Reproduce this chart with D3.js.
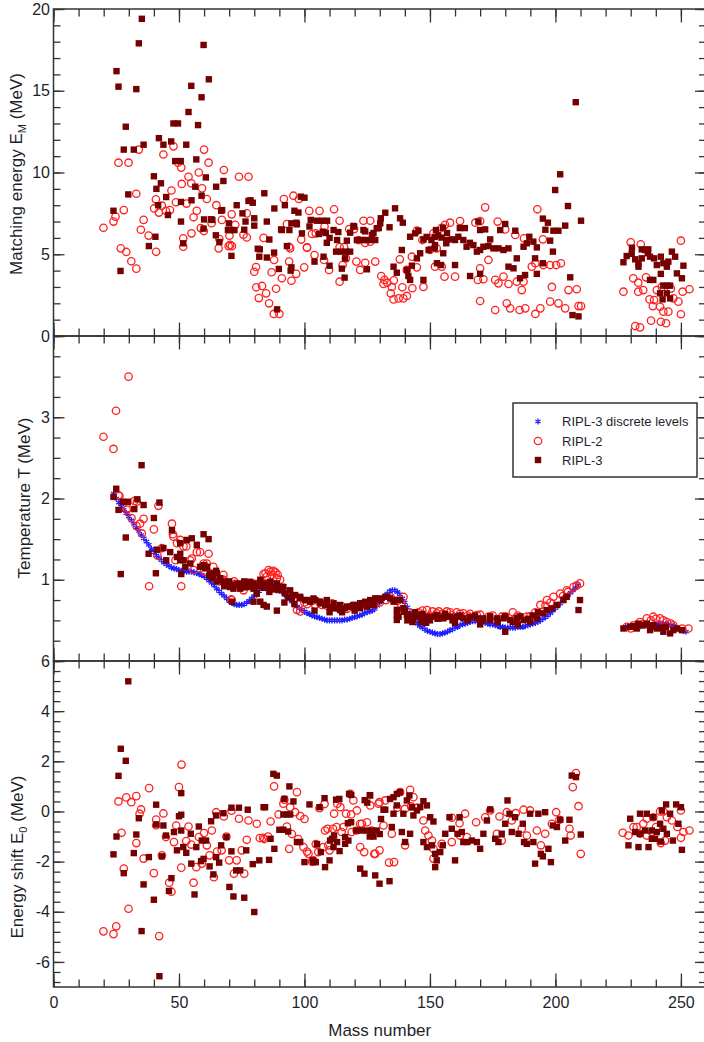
<!DOCTYPE html>
<meta charset="utf-8">
<head>
  <script src="https://d3js.org/d3.v7.min.js"></script>
  <style>
    body { margin: 0; background: #fff; }
    text { font-family: "Liberation Sans", Arial, sans-serif; fill: #1f1f2a; }
  </style>
</head>
<body>
  <div id="chart"></div>
  <script>
    // ---- data: [mass number, value] ----
    // matching energy E_M (MeV)
    var emRipl2 = [[19.9,6.62],[23.9,7.0],[24.7,7.3],[28,7.7],[26.8,5.36],[29,5.14],[31,4.57],[33,4.12],[25.9,10.6],[29.9,10.6],[34,11.4],[33,8.7],[35.9,7.1],[34.8,6.5],[37.9,6.14],[40.9,5.15],[40.1,7.8],[40.8,8.36],[42,7.55],[43.2,7.97],[44.8,7.66],[46.4,7.7],[47,8.9],[43.8,11.1],[47.8,11.6],[48.8,8.18],[49.6,10.6],[50.9,10.3],[51.1,9.3],[51.7,5.97],[51.7,5.46],[53,8.1],[53.8,9.74],[54.9,9.34],[55.8,7.26],[55,6.28],[57.1,7.66],[57.9,10.0],[59.2,9.03],[60,11.4],[61.8,10.6],[61.1,8.38],[58.7,6.6],[59.9,6.42],[63,6.9],[64.9,8.0],[67.1,7.1],[66.1,5.93],[67.9,10.15],[65.8,5.36],[70.1,6.13],[69.8,5.5],[71.1,5.5],[71,7.44],[73.9,9.74],[72.4,6.8],[77,7.5],[75.7,6.2],[77.7,9.74],
      [91.8,8.38],[95.6,8.58],[97.8,8.38],[101.9,7.65],[106,7.65],[111.8,7.75],[114,7.05],[123.5,7.05],[126.2,7.05],[93,6.85],[98.7,5.9],[104.5,6.28],[101,5.4],[104,4.95],[93.9,5.46],[93.9,4.55],[96.7,3.8],[94.8,3.38],[91,3.53],[86.9,3.9],[87.9,4.65],[83.7,6.0],[80,3.93],[80.7,4.22],[80.8,2.98],[83.1,3.06],[81.8,2.32],[84.7,2.61],[85.9,2.0],[88.7,2.89],[87.8,1.35],[90,1.35],[99.9,4.2],[107.8,4.65],[109.8,4.04],[114,3.32],[115.2,4.34],[116.5,4.75],[120.7,4.55],[122.2,4.04],[124.2,4.48],[128.2,4.55],[108,6.7],[77,6.03],[70.4,5.57],[103,6.24],[94.3,5.36],[101,5.42],[114,5.44],[115.8,5.44],
      [117.8,6.54],[119.8,6.54],[121.5,5.87],[124.2,5.69],[126.2,5.77],[130.6,3.67],[131.9,3.43],[131.5,3.18],[133,3.26],[134.4,2.61],[135.5,2.24],[137.5,2.3],[134.8,3.0],[139.4,2.3],[140.8,2.45],[139,2.98],[143,2.92],[135.6,3.4],[138,4.69],[140.8,4.04],[144.8,4.2],[142.8,4.85],[147.4,3.0],[152,4.24],[154.7,4.24],[155.8,3.63],[160,3.63],[150,5.26],[152.7,5.36],[147,5.87],[151.4,6.28],[154.7,6.62],[158,6.93],[162,7.03],[156,6.8],[144.8,6.44],[168.1,6.93],[170,7.03],[172,7.87],[177,7.0],[180,6.52],[170,4.14],[173.3,4.65],[171.3,3.47],[169.1,3.43],[176,3.43],[177.3,3.22],[179.3,3.63],[181.3,3.18],[170,2.14],[176,1.59],[180.6,2.0],[182,1.69],[185.7,1.59],[188,1.69],[192,1.35],[194,1.69],[184.6,3.32],[187.3,3.32],[190.6,4.24],[192,4.45],[186.6,2.81],[184,6.18],[187.5,5.97],[192.8,7.75],[195,5.91],[195.2,4.34],[197.9,4.34],[200.3,4.34],[202.2,4.45],[198.6,3.0],[197.9,2.1],[201.2,2.0],[203.9,1.69],[205.2,2.81],[208.5,2.86],[209.2,1.83],[210.2,1.83],
      [227.1,2.71],[230,5.73],[234,5.61],[231,3.53],[233,3.26],[236.1,3.59],[235,2.81],[233,2.71],[237.5,2.24],[239.3,2.2],[238.8,1.83],[240.4,2.81],[242.4,3.0],[241.7,1.79],[243,1.49],[245,1.49],[231.8,0.61],[233.7,0.53],[238.1,0.94],[242,0.87],[244.1,0.78],[247,2.3],[249,2.1],[250,1.33],[250.7,2.71],[253.4,2.86],[250,5.83],[246,2.9]];
    var emRipl3 = [[35.2,19.4],[34,17.9],[25.1,16.2],[25.9,15.25],[33,15.1],[59.8,17.8],[61.9,15.7],[54.9,15.3],[59,14.6],[53.8,13.7],[57.6,12.9],[28.8,12.8],[47.8,13.0],[49.6,13.0],[42,12.1],[43.8,11.7],[35.9,11.7],[46.9,11.9],[52.9,11.7],[28,11.4],[32,11.4],[48.5,10.7],[50.7,10.7],[56.9,10.8],[40,9.77],[60.7,9.7],[42.8,9.34],[41,9.0],[64.8,9.13],[67.7,9.48],[56.5,9.13],[29.8,8.66],[59,8.58],[55,8.3],[50.8,8.2],[44.9,8.5],[23.9,7.66],[41.7,8.0],[45.6,7.4],[66.8,7.66],[60,7.13],[63.3,7.1],[50.8,7.0],[64.7,6.16],[40.6,6.07],[69.5,6.48],[70.8,6.48],[72.1,6.48],[75.3,7.5],[73,8.0],[77.7,8.26],[66.1,5.75],[51.7,5.67],[38,5.5],[70.9,4.9],[26.7,3.98],
      [81.4,5.34],[82.2,5.3],[82,4.85],[85,4.8],[87.9,5.1],[86,5.9],[89.8,4.1],[89.1,1.63],[93,5.5],[94.8,4.2],[94.5,4.0],[104,4.55],[107.6,4.85],[110,4.3],[116,3.57],[114.9,4.12],[90.7,6.52],[94,6.48],[88,7.8],[84,8.73],[85,7.0],[92.2,8.0],[96,7.66],[97.6,7.55],[97,6.83],[100,8.46],[99,6.28],[102.5,7.1],[105,7.05],[107,7.05],[109,7.05],[105.8,6.24],[107.3,6.38],[108.9,5.7],[110,6.0],[111.6,6.48],[113,5.87],[113.5,6.36],[116.9,5.83],[118.2,6.32],[119.8,6.69],[120.9,5.87],[122.9,5.87],[124.2,5.87],[126.2,5.87],[128.2,5.87],[124.2,6.4],[127.5,6.3],[129.6,6.6],[112.6,5.16],[114.6,5.16],[116.6,5.16],[118.2,5.16],[116.2,4.75],[124.9,4.08],[78.5,8.3],[79.4,8.15],[76.5,7.0],[76,6.5],[80,7.2],[80,6.75],[67.2,7.7],[69.9,6.89],[59.8,6.57],[62.8,7.14],
      [91,6.48],[94.8,6.89],[96.8,6.93],[98.6,8.52],[102,6.7],[108.5,6.3],[130.4,7.2],[132.2,7.54],[128.8,6.59],[130.2,6.89],[126.9,6.18],[123.5,6.48],[119.5,6.73],[133.9,6.65],[136.1,7.81],[138.1,7.2],[139.2,6.93],[138.8,5.26],[135.5,4.24],[136.8,3.87],[140.8,4.04],[141.4,3.67],[142.1,3.43],[142.8,4.3],[142.1,6.07],[144.1,6.28],[145.4,6.44],[144.8,4.75],[146.1,5.06],[147.4,3.43],[147.4,5.9],[148.7,6.06],[150.6,5.87],[151.9,6.06],[153.3,6.16],[154.6,6.02],[156.5,5.67],[152,5.56],[149.5,5.26],[151.9,5.36],[155.3,5.06],[152.4,6.48],[155.2,6.62],[156.8,6.3],[152.8,4.45],[154.4,4.34],[160,4.34],[156.7,5.87],[158.7,5.91],[160,5.87],[161.3,6.07],[163.3,5.87],[164.6,5.46],[165.9,5.7],[167.3,5.56],[161.9,6.6],[163.9,6.6],[169.3,7.0],[170,6.48],[172,6.52],[166,3.67],[170,3.8],[168.7,5.16],[170,5.26],[171.3,5.46],[173.3,5.5],[175.3,5.36],[177.3,5.36],[179.3,5.26],[181.3,5.36],[174,5.91],[178,6.48],[180,6.85],[184.6,4.75],[184,6.44],[181.3,4.24],[183.3,4.14],[185.9,3.53],[187.9,3.73],[187.3,5.46],[188.6,5.67],[189.6,6.07],[191.2,5.77],[192.6,5.42],[191.9,4.75],[192.6,3.8],[195,4.45],
      [208.1,14.3],[201.9,9.89],[199.9,8.93],[205,7.95],[210.2,7.05],[203.9,6.75],[195,7.18],[197,6.93],[199.2,6.44],[201.2,6.44],[196,6.5],[197.9,5.83],[199,5.16],[205.9,3.59],[206.8,1.28],[209.2,1.2],
      [227.1,4.51],[228.4,4.89],[230.4,5.02],[231.8,4.69],[233.1,4.45],[233.1,4.24],[234.4,4.75],[235.7,5.26],[236.8,5.06],[237.7,4.85],[239.3,4.75],[240.4,4.34],[242,4.85],[243,4.45],[244.4,4.24],[245,4.55],[246.4,5.16],[247.7,4.85],[248.4,3.83],[250.4,3.53],[251,4.3],[230.5,5.4],[234.4,5.3],[237,5.3],[237.7,3.43],[239,3.43],[242,3.8],[243,3.08],[244.4,3.08],[245.7,3.08],[241.7,2.61],[242.7,2.24],[244.4,2.61],[245.7,2.3]];

    // temperature T (MeV)
    var tDiscrete = [[24,2.06],[25,2.00],[26,1.95],[27,1.90],[28,1.86],[29,1.82],[30,1.78],[31,1.73],[32,1.69],[33,1.64],[34,1.60],[35,1.55],[36,1.51],[37,1.47],[38,1.43],[39,1.38],[40,1.34],[41,1.30],[42,1.27],[43,1.24],[44,1.21],[45,1.19],[46,1.17],[47,1.15],[48,1.14],[49,1.13],[50,1.12],[51,1.11],[52,1.11],[53,1.10],[54,1.10],[55,1.10],[56,1.09],[57,1.08],[58,1.07],[59,1.06],[60,1.04],[61,1.02],[62,0.99],[63,0.96],[64,0.93],[65,0.89],[66,0.86],[67,0.83],[68,0.80],[69,0.77],[70,0.74],[71,0.72],[72,0.70],[73,0.69],[74,0.69],[75,0.69],[76,0.70],[77,0.72],[78,0.74],[79,0.77],[80,0.80],[81,0.83],[82,0.86],[83,0.90],[84,0.93],[85,0.96],[86,0.97],[87,0.97],[88,0.95],[89,0.91],[90,0.88],[91,0.85],[92,0.82],[93,0.79],[94,0.76],[95,0.73],[96,0.70],[97,0.67],[98,0.65],[99,0.63],[100,0.61],[101,0.59],[102,0.58],[103,0.56],[104,0.55],[105,0.54],[106,0.53],[107,0.52],[108,0.51],[109,0.50],[110,0.50],[111,0.50],[112,0.50],[113,0.50],[114,0.50],[115,0.50],[116,0.51],[117,0.51],[118,0.52],[119,0.53],[120,0.54],[121,0.55],[122,0.56],[123,0.57],[124,0.59],[125,0.60],[126,0.61],[127,0.62],[128,0.64],[129,0.68],[130,0.72],[131,0.76],[132,0.80],[133,0.83],[134,0.86],[135,0.87],[136,0.87],[137,0.85],[138,0.82],[139,0.77],[140,0.72],[141,0.66],[142,0.60],[143,0.55],[144,0.50],[145,0.46],[146,0.43],[147,0.41],[148,0.39],[149,0.37],[150,0.36],[151,0.35],[152,0.34],[153,0.33],[154,0.33],[155,0.34],[156,0.35],[157,0.36],[158,0.38],[159,0.39],[160,0.41],[161,0.42],[162,0.44],[163,0.45],[164,0.46],[165,0.47],[166,0.48],[167,0.49],[168,0.49],[169,0.49],[170,0.49],[171,0.48],[172,0.47],[173,0.46],[174,0.45],[175,0.45],[176,0.44],[177,0.43],[178,0.42],[179,0.42],[180,0.41],[181,0.41],[182,0.41],[183,0.41],[184,0.41],[185,0.42],[186,0.42],[187,0.42],[188,0.43],[189,0.44],[190,0.45],[191,0.46],[192,0.47],[193,0.48],[194,0.50],[195,0.52],[196,0.54],[197,0.56],[198,0.59],[199,0.62],[200,0.65],[201,0.68],[202,0.71],[203,0.75],[204,0.78],[205,0.81],[206,0.84],[207,0.87],[208,0.90],[209,0.93],
      [228,0.42],[229,0.42],[230,0.42],[231,0.42],[232,0.43],[233,0.43],[234,0.43],[235,0.44],[236,0.44],[237,0.44],[238,0.44],[239,0.45],[240,0.45],[241,0.46],[242,0.46],[243,0.46],[244,0.46],[245,0.45],[246,0.44],[247,0.43],[248,0.41],[249,0.40],[250,0.38],[251,0.37],[252,0.36]];
    var tRipl2 = [[19.9,2.76],[24.9,3.08],[29.9,3.5],[23.9,2.61],[26.3,2.03],[29.2,1.86],[32.3,1.97],[31.1,1.76],[33.1,1.66],[35.9,1.75],[35.2,1.57],[40,1.62],[41.8,1.91],[47.2,1.69],[38.1,0.92],[50.9,0.92],[47.8,1.53],[50.5,1.49],[52.9,1.41],[55.1,1.26],[58.4,1.34],[61.8,1.32],[61.1,1.2],[67.7,1.06],[70.8,0.76],[43.2,1.39],[41.4,1.30],[48.6,1.24],[55.8,1.12],[25.9,2.04],[29.5,1.88],[33.2,1.96],[34.5,1.69],[47.6,1.56],[49.2,1.45],[51.8,1.41],[54.5,1.24],[57.1,1.34],[59.8,1.20],[63.7,1.16],[65.1,1.04],[67.1,1.0],[71,0.75],[66,0.98],[69,0.95],[74,0.92],[77,0.95],[60,1.1],[64,1.05],[68,1.0],[72,0.98],[76,0.92],[80,0.95],
      [82.4,0.975],[83.7,1.07],[85.7,1.12],[87.6,1.11],[89.3,1.06],[90.3,1.0],[84.5,1.08],[86.5,1.1],[88.5,1.09],[85,1.04],[87,1.06],[89,1.02],[93,0.85],[95.6,0.77],[97,0.63],[72.4,0.95],[75.7,0.87],[79.7,0.91],[98.3,0.61],[101,0.70],[104.3,0.69],[107,0.69],[111,0.71],[112.2,0.68],[114.9,0.67],[118.9,0.67],[122.9,0.70],[126.9,0.71],[124.9,0.71],[100,0.72],[103,0.74],[106,0.72],[109,0.68],[113,0.66],[117,0.64],[120,0.66],[125,0.68],[128,0.70],[130,0.72],[132.5,0.75],[134.5,0.78],[137,0.74],[138.5,0.70],[139.5,0.79],
      [145.5,0.6],[148.8,0.627],[151,0.61],[153.5,0.61],[156.7,0.61],[152.7,0.587],[158.7,0.566],[160.7,0.60],[163.3,0.587],[166,0.58],[168.7,0.566],[173.3,0.545],[178.6,0.545],[184,0.525],[188.6,0.545],[142,0.6],[147,0.62],[150,0.56],[155,0.58],[158,0.6],[162,0.58],[165,0.56],[170,0.57],[175,0.56],[180,0.55],[185,0.56],[190,0.55],[192,0.6],[183,0.6],[196,0.68],[198,0.72],[203,0.8],[205,0.85],[194,0.69],[196.6,0.75],[199.2,0.79],[201.9,0.83],[204.5,0.87],[207.2,0.91],[208.5,0.93],[209.8,0.955],
      [228.4,0.42],[231.1,0.44],[233.7,0.48],[236.4,0.525],[239,0.545],[241.7,0.525],[244.4,0.48],[247,0.44],[250.5,0.40],[253,0.40],[230,0.40],[235,0.45],[238,0.5],[240,0.52],[243,0.5],[246,0.46]];
    var tRipl3 = [[35.1,2.41],[25,2.12],[23.9,2.02],[25.9,1.86],[27.6,1.96],[29.6,1.96],[33.4,1.99],[32.2,1.87],[35.9,1.92],[42.2,1.95],[40,1.76],[28.8,1.52],[26.8,1.07],[40.8,1.08],[50.9,1.07],[37.9,1.32],[41.2,1.37],[43.8,1.39],[44.9,1.24],[46.5,1.34],[49.2,1.28],[50.5,1.24],[52.5,1.16],[47.2,1.61],[50.5,1.45],[53.1,1.49],[55.1,1.51],[57.1,1.43],[59.8,1.56],[61.8,1.50],[58.4,1.16],[60.4,1.14],[63.1,1.02],[64.8,1.11],[66.4,1.02],[69.1,0.955],[71.7,0.89],[74.4,0.89],[77.7,0.955],[71.1,0.73],[79.7,0.73],[85,0.67],[89,0.62],[81,0.83],[74.4,0.955],[77,0.91],[79.7,0.955],[82.4,1.0],[86.3,0.975],[89,0.955],[91.6,0.91],[94.3,0.87],[95.6,0.81],[98.3,0.79],[92,0.72],[96,0.70],
      [50.5,1.32],[51.8,1.24],[54.5,1.20],[59.8,1.18],[61.1,1.16],[62.4,1.08],[63.7,1.04],[65.1,1.08],[66.4,1.0],[67.7,0.975],[69.1,0.955],[70.4,0.91],[71.7,0.935],[75.7,0.91],[77,0.955],[78.4,0.975],[79.7,0.89],[81,0.83],[82.4,0.73],[83.7,0.69],[62,1.05],[65,0.98],[68,0.92],[70,0.98],[73,0.95],[76,0.98],[78,0.93],[80,0.9],[82,0.92],[84,0.9],[86,0.85],[88,0.88],
      [83.7,0.955],[86.3,0.914],[88.3,0.894],[89.7,0.873],[91,0.914],[92.3,0.833],[93.6,0.79],[95,0.771],[96.3,0.812],[98.3,0.771],[100.3,0.75],[102.3,0.729],[104.3,0.75],[106.3,0.71],[108.3,0.689],[110.2,0.668],[112.2,0.648],[114.2,0.627],[116.2,0.648],[118.2,0.668],[120.2,0.689],[122.2,0.71],[124.2,0.729],[126.2,0.75],[128.2,0.771],[130.2,0.771],[132.2,0.79],[134.2,0.771],[136.2,0.75],
      [101,0.75],[103.6,0.77],[106.3,0.73],[108.9,0.75],[111.6,0.71],[114.2,0.69],[116.9,0.67],[119.5,0.69],[122.2,0.65],[124.9,0.67],[127.5,0.71],[104,0.62],[110,0.60],[115,0.60],[120,0.62],[122.2,0.71],[127.5,0.69],[130.2,0.75],[132.8,0.79],[135.5,0.73],[136.8,0.63],[138.1,0.75],[139.4,0.65],[136.8,0.566],[136.8,0.505],
      [137.5,0.545],[139.5,0.606],[141.4,0.566],[143.4,0.545],[145.4,0.566],[147.4,0.545],[149.4,0.525],[151.4,0.545],[153.4,0.525],[155.4,0.525],[157.4,0.545],[159.4,0.525],[161.4,0.545],
      [140.8,0.566],[142.1,0.545],[143.4,0.525],[145.4,0.545],[147.4,0.525],[146.5,0.48],[148.5,0.47],[150.1,0.545],[152.7,0.566],[155.4,0.545],[158,0.545],[160.7,0.545],[163.3,0.525],[166,0.545],[168.7,0.525],[171.3,0.525],[174,0.504],[176.7,0.525],[179.3,0.525],[182,0.504],[184.6,0.525],[187.3,0.504],[189.9,0.483],[192.6,0.525],[195.2,0.587],[196.6,0.627],[198.6,0.648],[200.6,0.69],[203.2,0.75],[204.5,0.79],[180,0.36],[209.2,0.627],[209.8,0.75],
      [141,0.5],[144,0.6],[147,0.58],[150,0.5],[153,0.52],[156,0.58],[159,0.5],[162,0.56],[165,0.5],[168,0.56],[171,0.5],[174,0.55],[177,0.48],[180,0.55],[183,0.48],[186,0.55],[189,0.52],[191,0.56],[193,0.6],[140,0.62],[143,0.48],[170,0.45],[160,0.47],[185,0.45],
      [227.1,0.40],[229.8,0.42],[232.4,0.40],[235,0.44],[237.7,0.38],[240.4,0.40],[243,0.36],[245.7,0.34],[248.4,0.40],[250.4,0.38],[233,0.46],[236.4,0.46],[238.5,0.42],[242,0.41],[231,0.43],[239,0.44],[244,0.42],[247,0.38]];

    // energy shift E_0 (MeV)
    var e0Ripl2 = [[19.9,-4.78],[23.9,-4.89],[25,-4.58],[25.9,0.4],[27.1,-0.85],[28,-2.28],[29,0.56],[31,0.37],[33,0.61],[33,-1.26],[29.9,-3.88],[34.3,-0.09],[34.9,0.08],[35.9,-1.88],[38.1,0.93],[40,-2.46],[40.9,-0.32],[40.9,-0.55],[42.1,-4.97],[43.2,-1.75],[43.8,-0.08],[44.8,-1.02],[46.1,-2.84],[47,-3.2],[48,-1.22],[48.9,-0.56],[50,0.97],[51,1.87],[50.9,-2.24],[52.9,-1.18],[53.8,-0.6],[54.9,-1.32],[55.8,-2.84],[56.9,-2.22],[57.9,-1.02],[59.1,-2.08],[60,-0.86],[61.1,-1.35],[62.2,-1.75],[63.1,-0.76],[63.9,-2.62],[64.8,-0.03],[65.2,-1.6],[67,-1.55],[67.9,-0.2],[68.9,-1.0],[70,-1.95],[70.9,0.03],[71.9,-2.48],[73,-1.95],[73.9,-0.29],[75,-1.55],[76,-2.48],[77,-1.13],[77.7,-0.36],
      [81,-0.49],[82.2,-1.06],[83.5,-1.05],[85.5,-1.0],[87.9,1.0],[89.7,-0.12],[91.6,0.31],[92,0.47],[93,-0.6],[93.9,-1.49],[94.3,0.17],[96.3,-0.03],[97,0.77],[98.3,-0.18],[100,-0.3],[101,-1.6],[103,-2.0],[104.5,-1.3],[106,0.13],[108,0.3],[108.2,-0.76],[109.2,-0.69],[110,-1.55],[111.8,-0.09],[113.1,0.31],[114.3,0.17],[115.5,-0.62],[116.6,-0.09],[118.2,0.7],[119.5,0.44],[118.6,-0.12],[120.9,0.04],[122.2,-1.42],[123.8,-1.62],[122.9,-0.49],[124.9,-0.43],[126.2,0.24],[128.2,-1.69],[129.5,0.31],
      [99.6,-1.42],[101.6,-1.69],[103.6,-1.95],[105.5,-1.62],[107.5,-1.42],[109.5,-1.35],[111.4,-0.69],[112.8,-0.62],[114.8,-0.82],[118.8,-0.82],[120.8,-0.76],[122.2,-0.49],[84,-1.1],[86.5,-0.4],[95,-0.9],[97.5,-1.1],
      [126.8,-0.76],[127.8,-1.69],[129.9,-1.55],[133.7,-2.04],[135.7,-2.02],[131.5,-0.56],[134.8,-0.89],[132.2,0.44],[129.9,0.37],[138.1,0.77],[142.1,0.86],[137,0.15],[140,0.1],[142.5,0.2],[145,0.15],[140.1,-1.35],[143.4,0.57],[147.4,-0.36],[148.1,-0.76],[149.4,-0.96],[150.8,-1.16],[151.4,-1.49],[151.4,-1.88],[154.7,-1.29],[158.7,-1.22],[162,-0.96],[164.7,-1.02],[158.7,-0.25],[161.8,-0.47],[164,-0.09],[168.4,-0.43],[172,-0.23],[174,0.04],[177.7,-0.2],[180.6,-0.03],[182.6,-0.36],[184.2,-0.07],[187.3,0.07],[189.9,0.04],[186.6,-0.69],[192.6,-0.76],[194.2,-1.35],[195.9,-0.89],[198.6,-0.49],[200.3,-0.03],[201.6,-0.33],[205.6,-0.69],[206.1,-0.96],[206.9,0.97],[208.2,1.53],[209.2,0.21],[210.1,-1.69],[176.7,-0.89],[178.6,-1.16],[188.6,-0.96],
      [226.8,-0.85],[229.1,-0.96],[231.1,-0.62],[233.7,-0.89],[236.4,-0.96],[238.4,-0.82],[240.1,-0.62],[242,-1.26],[243.7,-1.16],[244.4,-0.23],[246.4,-0.36],[248.6,-0.62],[250,-1.05],[251,-0.82],[253.4,-0.76],[250,0.04],[236.4,-0.29],[239,-0.23],[232.4,-0.62],[235,-0.49],[241.7,0.0],[243,0.0]];
    var e0Ripl3 = [[29.8,5.19],[26.8,2.5],[28.8,2.02],[25.9,1.42],[23.9,-1.71],[25.1,-1.0],[28,-2.46],[32,-1.66],[33,-0.92],[34,-0.27],[35.1,-4.77],[35.9,-2.91],[38,-1.82],[40,-3.52],[40.9,0.27],[40.9,-0.52],[42.2,-6.57],[43.2,-1.79],[43.8,-0.56],[44.8,-0.96],[46,-3.17],[47,-2.66],[48,-0.82],[49.2,-1.55],[50,-0.19],[50.9,-0.13],[50.9,0.73],[50.9,-0.76],[51.7,-1.42],[52.9,-1.65],[54.7,-0.89],[54.9,-2.08],[56.2,-3.31],[56.9,-1.42],[57.9,-0.6],[58.8,-1.98],[59.8,-1.89],[59.1,-1.16],[60.8,-1.16],[62.2,-2.19],[62.8,-0.39],[63.7,-2.51],[64.8,-0.16],[64.8,-1.82],[66,-2.04],[66.8,-1.35],[67.7,-0.07],[68.9,-1.02],[70.1,-3.01],[70.9,0.15],[70.9,-1.59],[71.7,-3.39],[72.8,-2.35],[74.4,-2.35],[73.9,0.15],[76,-3.44],[76.8,-1.55],[77.4,0.07],
      [80,-4.01],[82,-1.95],[79.4,-2.1],[83.7,0.17],[84.3,0.17],[86.5,-1.09],[85.9,-1.93],[87.6,1.5],[89,1.43],[88,-1.49],[90,-0.73],[92,0.5],[94,1.0],[95.6,0.4],[91.6,-0.12],[93,-0.12],[94.3,-0.12],[93.5,-0.8],[91.6,-0.73],[97,-1.22],[98.3,-1.22],[100,-2.02],[103.6,-2.02],[104.5,-2.02],[103.3,-1.95],[102,0.28],[106,0.17],[105,-1.3],[106.5,-1.62],[108.2,-2.22],[110,-1.95],[110.2,-1.16],[111,-1.09],[111.8,-0.96],[111.6,-1.42],[113,-1.22],[117.5,-1.16],[108,0.53],[112.6,0.47],[113.9,0.5],[114,-1.58],[116.2,-1.29],[116.2,-1.02],[117.3,-0.47],[117.8,0.7],[118.6,0.66],[118.6,-0.43],[120.6,-0.76],[122.9,-0.76],[124.9,-0.76],[126.9,-0.76],[128.8,-0.76],[124,0.45],[125,0.35],[126,0.65],[122.2,-2.28],[123.9,-2.48],[128.2,-2.55],[129.9,-2.88],[126,-1.0],[127.5,-1.0],
      [126.2,0.64],[133.9,-2.78],[131.5,0.07],[132.2,0.07],[130,-0.9],[130.5,-0.3],[134.1,0.5],[135.5,0.57],[136.8,0.7],[138.1,0.77],[134.8,-0.62],[135.5,-0.09],[136.8,0.24],[139.4,-0.09],[140.8,0.44],[141.8,0.64],[142.8,0.17],[143.4,-0.16],[144.8,0.04],[146.1,0.17],[147.4,0.41],[148.8,0.24],[150.1,-0.23],[151.4,-0.4],[138.8,-0.82],[140.1,-1.22],[142.1,-0.89],[147.4,-1.22],[148.8,-1.42],[150.8,-1.35],[152.1,-1.69],[152.7,-1.95],[152.1,-2.22],[154.1,-1.62],[155.1,-1.35],[156.1,-0.89],
      [157.8,-0.23],[160,-1.95],[158.7,-0.69],[161,-0.89],[161.8,-0.23],[162.7,-0.82],[163.3,-1.22],[164.9,-1.22],[166.7,-1.16],[168.7,-1.22],[170,-1.49],[171.3,-0.89],[172.7,-0.36],[174,0.08],[176,-1.09],[177.3,-1.22],[178.6,-0.89],[180,-0.49],[180.9,0.44],[181.7,-0.09],[182.6,-0.82],[183.9,-0.23],[185.3,-0.89],[187,-0.49],[187.5,-1.22],[188.6,-1.29],[189.9,-0.09],[191.2,-1.22],[191.9,-2.08],[193.2,-0.09],[194.2,-1.69],[195,-1.79],[195.9,-0.03],[197.2,-1.49],[198.2,-2.02],[199,-0.56],[200.6,-0.62],[201.9,-0.33],[203.9,-1.16],[205.6,-0.33],[206.5,1.43],[208.2,1.37],[210.1,-0.92],
      [229.1,-1.35],[233.1,-1.42],[237.1,-1.42],[233.7,-0.09],[236.4,-0.09],[239,-0.23],[242.4,0.04],[244.1,0.28],[245.7,-0.09],[248.1,0.28],[250,0.17],[229.8,-0.29],[231.8,-0.82],[233.7,-0.89],[235.7,-0.76],[238.4,-0.76],[240.4,-0.82],[241.7,-0.49],[243,-0.69],[244.4,-0.89],[246.8,-1.16],[249,-0.49],[250.4,-1.53],[238.4,-1.09],[239.7,-1.09],[242,-1.2]];

    var xMajor = [0, 50, 100, 150, 200, 250];
    var legendLabels = ["RIPL-3 discrete levels", "RIPL-2", "RIPL-3"];

    var width = 704, height = 1042;
    var svg = d3.select("#chart")
      .append("svg")
      .attr("width", width)
      .attr("height", height);
    svg.append("rect").attr("width", width).attr("height", height).attr("fill", "#fff");

    var x = d3.scaleLinear().domain([0, 260]).range([53.5, 706]);
    var xMinor = d3.range(0, 261, 10);

    var colors = { star: "#2020ff", circle: "#ff2020", square: "#760000" };

    var panels = [
      {
        y: d3.scaleLinear().domain([0, 20]).range([336, 9]),
        major: [0, 5, 10, 15, 20], minor: d3.range(0, 20.01, 1), labels: [0, 5, 10, 15, 20],
        stars: null, circles: emRipl2, squares: emRipl3,
        title: ["Matching energy E", "M", " (MeV)"], tx: 21.5, ty: 174
      },
      {
        y: d3.scaleLinear().domain([0, 4]).range([661, 336]),
        major: [0, 1, 2, 3, 4], minor: d3.range(0, 4.01, 0.25), labels: [1, 2, 3],
        stars: tDiscrete, circles: tRipl2, squares: tRipl3,
        title: ["Temperature T (MeV)"], tx: 29.5, ty: 498
      },
      {
        y: d3.scaleLinear().domain([-7, 6]).range([987, 661]),
        major: [-6, -4, -2, 0, 2, 4, 6], minor: d3.range(-6.8, 6.01, 0.4), labels: [-6, -4, -2, 0, 2, 4, 6],
        stars: null, circles: e0Ripl2, squares: e0Ripl3,
        title: ["Energy shift E", "0", " (MeV)"], tx: 23, ty: 857
      }
    ];

    var star = d3.symbol().type(d3.symbolAsterisk).size(26);

    function styleAxis(g) {
      g.select(".domain").remove();
      g.selectAll("line").attr("stroke", "#333").attr("stroke-width", 1.3);
      g.selectAll("text").style("font-size", "16px").attr("fill", "#1f1f2a");
    }

    panels.forEach(function (p, i) {
      var y = p.y;
      var top = y.range()[1], bottom = y.range()[0];
      var plot = svg.append("g");

      // same order as the legend: discrete levels, RIPL-2, RIPL-3 on top
      if (p.stars) {
        plot.append("g").selectAll("path")
          .data(p.stars).enter().append("path")
          .attr("d", star)
          .attr("transform", function (d) { return "translate(" + x(d[0]) + "," + y(d[1]) + ")"; })
          .attr("stroke", colors.star).attr("stroke-width", 1.3).attr("fill", "none");
      }
      plot.append("g").selectAll("circle")
        .data(p.circles).enter().append("circle")
        .attr("cx", function (d) { return x(d[0]); })
        .attr("cy", function (d) { return y(d[1]); })
        .attr("r", 3.7)
        .attr("fill", "none").attr("stroke", colors.circle).attr("stroke-width", 1.3);
      plot.append("g").selectAll("rect")
        .data(p.squares).enter().append("rect")
        .attr("x", function (d) { return x(d[0]) - 3.2; })
        .attr("y", function (d) { return y(d[1]) - 3.2; })
        .attr("width", 6.4).attr("height", 6.4)
        .attr("fill", colors.square);

      // left / right ticks, pointing inward
      svg.append("g").attr("transform", "translate(" + x(0) + ",0)")
        .call(d3.axisLeft(y).tickValues(p.minor).tickSize(-7).tickFormat(""))
        .call(styleAxis);
      svg.append("g").attr("transform", "translate(" + x(0) + ",0)")
        .call(d3.axisLeft(y).tickValues(p.major).tickSize(-11).tickPadding(3.5)
          .tickFormat(function (d) { return p.labels.indexOf(d) >= 0 ? String(d) : ""; }))
        .call(styleAxis);
      svg.append("g").attr("transform", "translate(" + x(260) + ",0)")
        .call(d3.axisRight(y).tickValues(p.minor).tickSize(-7).tickFormat(""))
        .call(styleAxis);
      svg.append("g").attr("transform", "translate(" + x(260) + ",0)")
        .call(d3.axisRight(y).tickValues(p.major).tickSize(-11).tickFormat(""))
        .call(styleAxis);

      // top / bottom ticks
      svg.append("g").attr("transform", "translate(0," + top + ")")
        .call(d3.axisTop(x).tickValues(xMinor).tickSize(-7.5).tickFormat(""))
        .call(styleAxis);
      svg.append("g").attr("transform", "translate(0," + top + ")")
        .call(d3.axisTop(x).tickValues(xMajor).tickSize(-13.5).tickFormat(""))
        .call(styleAxis);
      svg.append("g").attr("transform", "translate(0," + bottom + ")")
        .call(d3.axisBottom(x).tickValues(xMinor).tickSize(-7.5).tickFormat(""))
        .call(styleAxis);
      svg.append("g").attr("transform", "translate(0," + bottom + ")")
        .call(d3.axisBottom(x).tickValues(xMajor).tickSize(-13.5).tickPadding(10)
          .tickFormat(i === 2 ? function (d) { return String(d); } : ""))
        .call(styleAxis);

      // frame
      svg.append("rect")
        .attr("x", x(0)).attr("y", top)
        .attr("width", x(260) - x(0)).attr("height", bottom - top)
        .attr("fill", "none").attr("stroke", "#333").attr("stroke-width", 1.5);

      // rotated y title
      var t = svg.append("text")
        .attr("transform", "translate(" + p.tx + "," + p.ty + ") rotate(-90)")
        .attr("text-anchor", "middle")
        .style("font-size", "17px");
      t.append("tspan").text(p.title[0]);
      if (p.title.length > 1) {
        t.append("tspan").attr("dy", 4).style("font-size", "11px").text(p.title[1]);
        t.append("tspan").attr("dy", -4).text(p.title[2]);
      }
    });

    svg.append("text")
      .attr("x", (x(0) + x(260)) / 2).attr("y", 1036)
      .attr("text-anchor", "middle")
      .style("font-size", "17px")
      .text("Mass number");

    // legend
    var lg = svg.append("g").attr("transform", "translate(513,403)");
    lg.append("rect").attr("width", 184).attr("height", 74)
      .attr("fill", "#fff").attr("stroke", "#333").attr("stroke-width", 1.5);
    var rows = [18.5, 38, 57];
    lg.append("path").attr("d", star).attr("transform", "translate(25," + rows[0] + ")")
      .attr("stroke", colors.star).attr("stroke-width", 1.3).attr("fill", "none");
    lg.append("circle").attr("cx", 25).attr("cy", rows[1]).attr("r", 3.7)
      .attr("fill", "none").attr("stroke", colors.circle).attr("stroke-width", 1.3);
    lg.append("rect").attr("x", 25 - 3.2).attr("y", rows[2] - 3.2).attr("width", 6.4).attr("height", 6.4)
      .attr("fill", colors.square);
    legendLabels.forEach(function (s, i) {
      lg.append("text").attr("x", 49).attr("y", rows[i]).attr("dy", "0.35em")
        .style("font-size", "13px").text(s);
    });
  </script>
</body>
</html>
